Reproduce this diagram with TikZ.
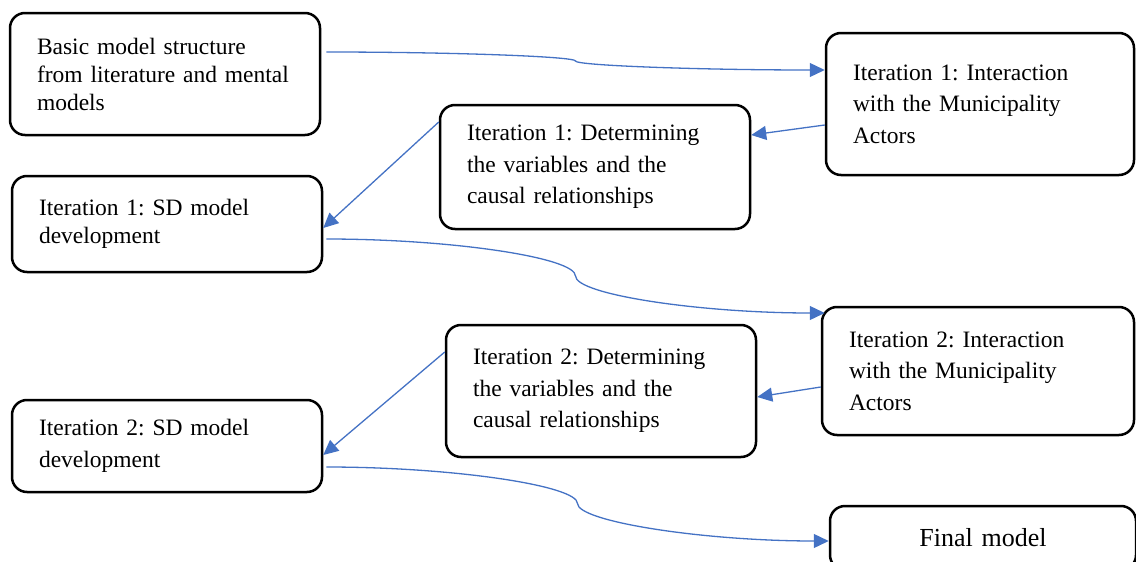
\documentclass[tikz,border=0pt]{standalone}
\usepackage{fontspec}
\setmainfont{Liberation Serif}
\usetikzlibrary{arrows.meta}
\definecolor{linkblue}{HTML}{4472C4}
\frenchspacing

\begin{document}
\begin{tikzpicture}[x=1pt, y=-1pt,
        box/.style={draw, line width=2.5pt, rounded corners=15pt, align=left,
            inner xsep=27pt, inner ysep=0pt, text width=256pt,
            font=\fontsize{23.5}{28}\selectfont},
        spaced/.style={font=\fontsize{23.5}{31.5}\selectfont},
        link/.style={linkblue, line width=1.3pt, -{Triangle[length=15pt,width=14pt]}}]
        \useasboundingbox (0, 0) rectangle (1136, 562);
        \node[box, minimum height=122pt] (basic) at (165, 74) {Basic model structure\\from literature and mental\\models};
        \node[box, spaced, text width=254pt, minimum height=142pt] (inter1) at (980, 104) {Iteration 1: Interaction\\with the Municipality\\Actors};
        \node[box, spaced, minimum height=124pt] (vars1) at (595, 167) {Iteration 1: Determining\\the variables and the\\causal relationships};
        \node[box, minimum height=96pt] (sd1) at (167, 224) {Iteration 1: SD model\\development};
        \node[box, spaced, text width=258pt, minimum height=128pt] (inter2) at (978, 371) {Iteration 2: Interaction\\with the Municipality\\Actors};
        \node[box, spaced, minimum height=132pt] (vars2) at (601, 391) {Iteration 2: Determining\\the variables and the\\causal relationships};
        \node[box, spaced, minimum height=92pt] (sd2) at (167, 446) {Iteration 2: SD model\\development};
        \node[box, align=center, text width=252pt, minimum height=64pt, font=\fontsize{26}{30}\selectfont] (final) at (983, 538) {Final model};
        \draw[link] ([xshift=5pt, yshift=22pt]basic.east) .. controls +(125, 0) and +(0, -4.5) .. (575.5, 61)
            .. controls +(0, 4.5) and +(-125, 0) .. ([yshift=34pt]inter1.west);
        \draw[link] ([yshift=-21pt]inter1.west) -- ([yshift=32pt]vars1.east);
        \draw[link] ([yshift=45pt]vars1.west) -- ([yshift=-4pt]sd1.east);
        \draw[link] ([xshift=3pt, yshift=-15pt]sd1.east) .. controls +(125, 0) and +(0, -18.5) .. (575.5, 276)
            .. controls +(0, 18.5) and +(-125, 0) .. ([xshift=4pt, yshift=58pt]inter2.west);
        \draw[link] ([yshift=-16pt]inter2.west) -- ([yshift=-6pt]vars2.east);
        \draw[link] ([yshift=39pt]vars2.west) -- ([yshift=-9pt]sd2.east);
        \draw[link] ([xshift=3pt, yshift=-21pt]sd2.east) .. controls +(126, 0) and +(0, -18) .. (577.5, 503.5)
            .. controls +(0, 18) and +(-126, 0) .. ([yshift=-3pt]final.west);
    \end{tikzpicture}
\end{document}
